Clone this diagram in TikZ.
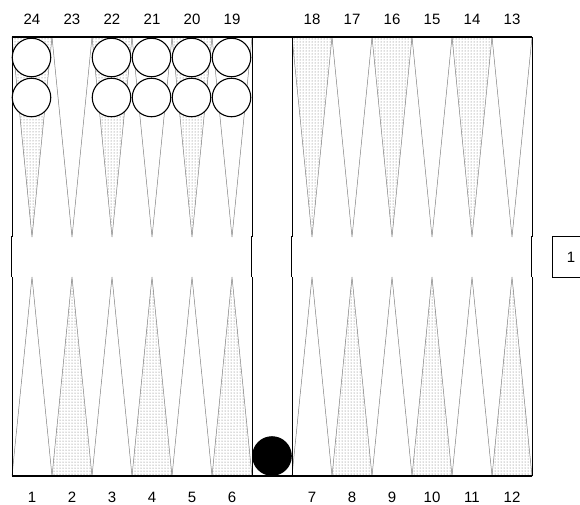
\documentclass[tikz,border=0pt]{standalone}
\usepackage{fontspec}
\setmainfont{Liberation Sans}
\usepackage{tikz}
\usetikzlibrary{calc}
\usetikzlibrary{patterns}

\begin{document}
\begin{tikzpicture}[x=1pt,y=-1pt]
		\tikzset{board/.style={black,line width=1.1pt},
			pip/.style={gray,line width=0.5pt},
			darkpip/.style={pip,pattern=dots,pattern color=black!60},
			stone/.style={draw,circle,line width=1.1pt,minimum size=38.5pt,inner sep=0pt},
			num/.style={font=\fontsize{15}{17}\selectfont,inner sep=0pt}}
		\useasboundingbox (0,0) rectangle (580,504);
		% points, top row 24..13 and bottom row 1..12
		\foreach \i in {0,...,11} {
			\pgfmathsetmacro{\xl}{12+40*\i+40*(\i>5)}
			\pgfmathsetmacro{\xm}{\xl+20}
			\pgfmathsetmacro{\xr}{\xl+40}
			\pgfmathtruncatemacro{\top}{24-\i}
			\pgfmathtruncatemacro{\bot}{1+\i}
			\ifodd\i
				\draw[pip] (\xl,37) -- (\xm,237) -- (\xr,37);
				\draw[darkpip] (\xl,476) -- (\xm,277) -- (\xr,476) -- cycle;
			\else
				\draw[darkpip] (\xl,37) -- (\xm,237) -- (\xr,37) -- cycle;
				\draw[pip] (\xl,476) -- (\xm,277) -- (\xr,476);
			\fi
			\node (t\top) at (\xm,19) [num] {\top};
			\node (b\bot) at (\xm,497) [num] {\bot};
		}
		% board frame
		\draw[board] (12,37) -- (532,37);
		\draw[board] (12,476) -- (532,476);
		\foreach \x in {12,252,292,532} {
			\draw[board] (\x+0.3,37) -- (\x+0.3,237);
			\draw[board] (\x-0.4,236) -- (\x-0.4,277);
			\draw[board] (\x+0.3,277) -- (\x+0.3,476);
		}
		% checkers
		\foreach \x/\n in {32/24,112/22,152/21,192/20,232/19} {
			\node (w\n a) at (\x-0.5,57.5) [stone,fill=white] {};
			\node (w\n b) at (\x-0.5,97.5) [stone,fill=white] {};
		}
		\node (k) at (272,456) [stone,fill=black] {};
		% cube
		\draw[line width=1pt] (584,236.5) -- (552.5,236.5) -- (552.5,277) -- (584,277);
		\node (cube) at (571,257) [num] {1};
	\end{tikzpicture}
\end{document}
